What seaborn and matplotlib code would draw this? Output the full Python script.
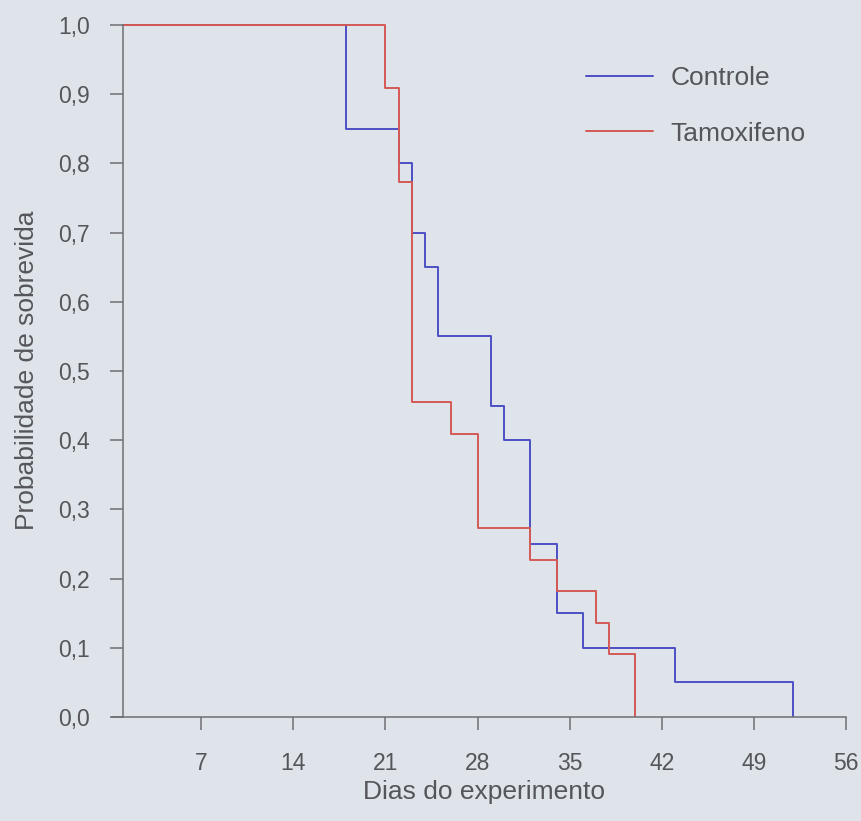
import matplotlib
matplotlib.use("Agg")
import matplotlib.pyplot as plt
import seaborn as sns
import pandas as pd

# Data (Kaplan-Meier step curves)
controle_dias = [0, 18, 22, 23, 24, 25, 29, 30, 32, 34, 36, 43, 52]
controle_surv = [1.0, 0.85, 0.80, 0.70, 0.65, 0.55, 0.45, 0.40, 0.25, 0.15, 0.10, 0.05, 0.0]
tamox_dias = [0, 21, 22, 23, 26, 28, 32, 34, 37, 38, 40]
tamox_surv = [1.0, 0.909, 0.773, 0.455, 0.409, 0.273, 0.227, 0.182, 0.136, 0.091, 0.0]
grupos = ["Controle", "Tamoxifeno"]
x_ticks = [7, 14, 21, 28, 35, 42, 49, 56]
y_ticks = [0.0, 0.1, 0.2, 0.3, 0.4, 0.5, 0.6, 0.7, 0.8, 0.9, 1.0]
y_tick_labels = ["0,0", "0,1", "0,2", "0,3", "0,4", "0,5", "0,6", "0,7", "0,8", "0,9", "1,0"]

df = pd.concat([
    pd.DataFrame({"dias": controle_dias, "surv": controle_surv, "grupo": grupos[0]}),
    pd.DataFrame({"dias": tamox_dias, "surv": tamox_surv, "grupo": grupos[1]}),
], ignore_index=True)

bg = "#dee4ea"
txt = "#55565c"
sns.set_style("ticks")
plt.rcParams["font.family"] = ["Liberation Sans", "DejaVu Sans"]

fig = plt.figure(figsize=(8.62, 8.21), dpi=100, facecolor=bg)
ax = fig.add_axes([123/862, 1 - 717/821, (846-123)/862, (717-23)/821])
ax.set_facecolor(bg)

palette = {"Controle": "#4b4fc4", "Tamoxifeno": "#d45a55"}
sns.lineplot(data=df, x="dias", y="surv", hue="grupo", palette=palette,
             drawstyle="steps-post", estimator=None, sort=False,
             linewidth=1.4, ax=ax, legend=True)

ax.set_xlim(1.05, 56)
ax.set_ylim(0, 1.003)
ax.set_xticks(x_ticks)
ax.set_xticklabels([str(t) for t in x_ticks])
ax.set_yticks(y_ticks)
ax.set_yticklabels(y_tick_labels)

for s in ["top", "right"]:
    ax.spines[s].set_visible(False)
for s in ["left", "bottom"]:
    ax.spines[s].set_color("#6e6f74")
    ax.spines[s].set_linewidth(1.1)
ax.spines["bottom"].set_bounds(0.2, 56)
ax.spines["left"].set_bounds(0, 1.0)

ax.tick_params(axis="both", direction="out", length=9.5, width=1.1,
               colors="#6e6f74", labelcolor=txt, labelsize=16.5)
ax.tick_params(axis="y", pad=14.3)
ax.tick_params(axis="x", pad=16)

ax.set_xlabel("Dias do experimento", fontsize=19, color=txt, labelpad=3)
ax.set_ylabel("Probabilidade de sobrevida", fontsize=19, color=txt, labelpad=13.5)

handles, labels = ax.get_legend_handles_labels()
leg = ax.legend(handles, labels, loc="upper left", frameon=False,
                bbox_to_anchor=(586/862, 1 - 66/821), bbox_transform=fig.transFigure,
                borderpad=0, borderaxespad=0, handlelength=2.55, handletextpad=0.65,
                labelspacing=1.2, fontsize=19)
for t in leg.get_texts():
    t.set_color(txt)

fig.savefig("out.png", dpi=100, facecolor=bg)
